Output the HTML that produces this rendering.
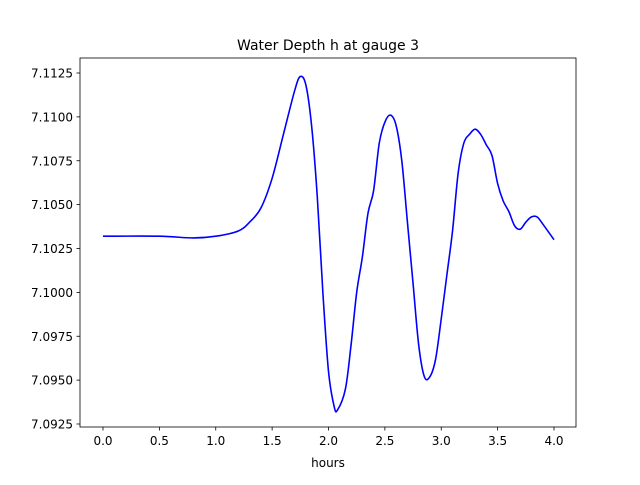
<!DOCTYPE html>
<html><head><meta charset="utf-8"><style>
body{margin:0;background:#fff}
text{font-family:"DejaVu Sans","Liberation Sans",sans-serif;fill:#000}
</style></head><body>
<svg id="chart" width="640" height="480">
<rect width="640" height="480" fill="#fff"/>
<text x="328" y="50" font-size="14" text-anchor="middle">Water Depth h at gauge 3</text>
<g id="xt"></g>
<g id="yt"></g>
<path id="line" fill="none" stroke="#0000ff" stroke-width="1.6"/>
<rect x="80" y="58" width="496" height="369" fill="none" stroke="#000" stroke-width="0.8"/>
<text x="328" y="467" font-size="12" text-anchor="middle">hours</text>
</svg>
<script>
const hours=[0,0.5,0.8,1.0,1.2,1.3,1.4,1.5,1.6,1.7,1.75,1.8,1.85,1.9,1.95,2.0,2.05,2.08,2.15,2.2,2.25,2.3,2.35,2.4,2.45,2.5,2.55,2.6,2.65,2.7,2.75,2.8,2.85,2.9,2.95,3.0,3.05,3.1,3.15,3.2,3.25,3.3,3.35,3.4,3.45,3.5,3.55,3.6,3.65,3.7,3.75,3.8,3.85,3.9,4.0];
const depth=[7.1032,7.1032,7.1031,7.1032,7.1035,7.1040,7.1048,7.1065,7.1090,7.1115,7.1123,7.1118,7.1095,7.1055,7.1000,7.0955,7.0935,7.0933,7.0945,7.0970,7.1000,7.1020,7.1045,7.1058,7.1085,7.1097,7.1101,7.1095,7.1075,7.1040,7.1005,7.0970,7.0952,7.0952,7.0962,7.0985,7.1010,7.1035,7.1068,7.1085,7.1090,7.1093,7.1090,7.1084,7.1078,7.1062,7.1052,7.1046,7.1038,7.1036,7.1040,7.1043,7.1043,7.1039,7.1030];
const xTicks=[0,0.5,1.0,1.5,2.0,2.5,3.0,3.5,4.0];
const yTicks=[7.0925,7.0950,7.0975,7.1000,7.1025,7.1050,7.1075,7.1100,7.1125];
const X=v=>103+v*(554-103)/4;
const Y=v=>424-(v-7.0925)*(424-73)/0.02;
const NS="http://www.w3.org/2000/svg";
const xt=document.getElementById('xt'),yt=document.getElementById('yt');
xTicks.forEach(t=>{
 const l=document.createElementNS(NS,'line');
 l.setAttribute('x1',X(t));l.setAttribute('x2',X(t));l.setAttribute('y1',427);l.setAttribute('y2',430.5);l.setAttribute('stroke','#000');l.setAttribute('stroke-width','0.8');
 
 
 xt.appendChild(l);
 const s=document.createElementNS(NS,'text');
 s.setAttribute('x',X(t));s.setAttribute('y',445);s.setAttribute('font-size','12');s.setAttribute('text-anchor','middle');
 s.textContent=t.toFixed(1);
 
 
 xt.appendChild(s);
});
yTicks.forEach(t=>{
 const l=document.createElementNS(NS,'line');
 l.setAttribute('x1',76.5);l.setAttribute('x2',80);l.setAttribute('y1',Y(t));l.setAttribute('y2',Y(t));l.setAttribute('stroke','#000');l.setAttribute('stroke-width','0.8');
 
 
 yt.appendChild(l);
 const s=document.createElementNS(NS,'text');
 s.setAttribute('x',73);s.setAttribute('y',Y(t)+4.5);s.setAttribute('font-size','12');s.setAttribute('text-anchor','end');
 s.textContent=t.toFixed(4);
 
 
 yt.appendChild(s);
});
const P=hours.map((h,i)=>[X(h),Y(depth[i])]);
let d='M'+P[0][0]+','+P[0][1];
for(let i=0;i<P.length-1;i++){
 const p0=P[Math.max(i-1,0)],p1=P[i],p2=P[i+1],p3=P[Math.min(i+2,P.length-1)];
 const c1=[p1[0]+(p2[0]-p0[0])/6,p1[1]+(p2[1]-p0[1])/6];
 const c2=[p2[0]-(p3[0]-p1[0])/6,p2[1]-(p3[1]-p1[1])/6];
 d+=` C${c1[0]},${c1[1]} ${c2[0]},${c2[1]} ${p2[0]},${p2[1]}`;
}
document.getElementById('line').setAttribute('d',d);
</script>
</body></html>
